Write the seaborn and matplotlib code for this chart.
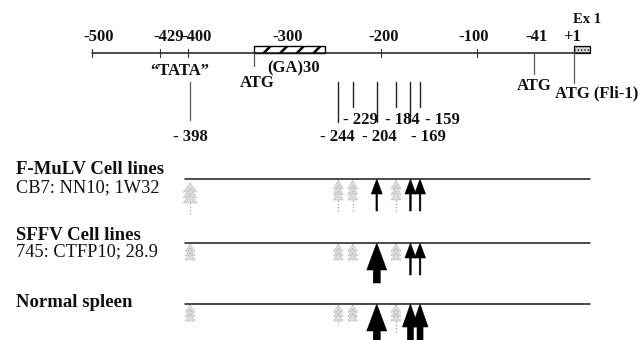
import matplotlib
matplotlib.use("Agg")
import matplotlib.pyplot as plt
import seaborn as sns
import pandas as pd
from matplotlib.patches import Rectangle, Polygon

# promoter map data (positions in bp relative to +1)
ruler_ticks = [-500, -429, -400, -200, -100]
ruler_label_pos = [-500, -429, -400, -300, -200, -100, -41, 1]
ruler_labels = ["-500", "-429", "-400", "-300", "-200", "-100", "-41", "+1"]
ruler_start, ruler_end = -500, 18
ga_start, ga_end = -332, -258
ex1_start, ex1_end = 1, 18
atg_sites = [-332, -41, 1]
atg_labels = ["ATG", "ATG", "ATG (Fli-1)"]
tata_site = -398
sites = [-244, -229, -204, -184, -169, -159]
site_labels = ["- 244", "- 229", "- 204", "- 184", "- 169", "- 159"]

track_titles = ["F-MuLV Cell lines", "SFFV Cell lines", "Normal spleen"]
track_subtitles = ["CB7: NN10; 1W32", "745: CTFP10; 28.9", ""]
grey_sites = [-398, -244, -229, -184]
black_sites = [-204, -169, -159]
black_size = [["thin", "thin", "thin"],
              ["big", "thin", "thin"],
              ["big", "mid", "mid"]]
grey_shaft = [[33, 32, 32, 32],
              [0, 0, 0, 0],
              [0, 20, 0, 29]]

# layout (pixel units)
K = 0.962          # px per bp
X0 = 92            # px of -500
ruler_y = 53
track_y = [179, 243, 304]
track_start = -403
title_base = [174, 240, 307]
sub_base = [192, 256]

sns.set_theme(style="white")
plt.rcParams["font.family"] = ["Liberation Serif", "DejaVu Serif"]

fig = plt.figure(figsize=(6.38, 3.4), dpi=100)
ax = fig.add_axes([0, 0, 1, 1])


def bp(dpx):
    return dpx / K


lines = pd.DataFrame({
    "x": [ruler_start, ruler_end] + [v for _ in track_y for v in (track_start, ruler_end)],
    "y": [ruler_y, ruler_y] + [v for y in track_y for v in (y, y)],
    "id": [0, 0] + [i + 1 for i in range(len(track_y)) for _ in (0, 1)],
})
sns.lineplot(data=lines, x="x", y="y", units="id", estimator=None, sort=False,
             color="#1a1a1a", lw=1.1, legend=False, ax=ax)
ax.set_xlim(-500 - X0 / K, -500 + (638 - X0) / K)
ax.set_ylim(340, 0)
ax.axis("off")

bold = dict(fontweight="bold", color="#111111")

# ruler
for t in ruler_ticks:
    ax.plot([t, t], [49, 57], color="#333333", lw=0.8)
shifts = [7, 8, 8, 3, 3, -3, 3, -2]
for p, lab, s in zip(ruler_label_pos, ruler_labels, shifts):
    ax.text(p + bp(s), 41, lab, ha="center", va="baseline", fontsize=12, **bold)
ax.text(ex1_start + bp(13), 23, "Ex 1", ha="center", va="baseline", fontsize=10.5, **bold)

plt.rcParams["hatch.linewidth"] = 1.8
ax.add_patch(Rectangle((ga_start, ruler_y - 7.5), ga_end - ga_start, 7.5,
                       fc="white", ec="black", lw=1.0, hatch="//"))
plt.rcParams["hatch.linewidth"] = 0.6
ax.add_patch(Rectangle((ex1_start, ruler_y - 7), ex1_end - ex1_start, 7,
                       fc="#d9d9d9", ec="black", lw=0.9, hatch="....."))
ax.text((ga_start + ga_end) / 2 + bp(4), 72, "(GA)30", ha="center", va="baseline",
        fontsize=12, **bold)

# ATG marks
atg_len = [13, 21, 30]
atg_text = [(4, 87, "center"), (1, 90, "center"), (-19, 97, "left")]
for p, lab, L, (dx, ty, ha) in zip(atg_sites, atg_labels, atg_len, atg_text):
    ax.plot([p, p], [ruler_y, ruler_y + L], color="#555555", lw=0.9)
    ax.text(p + bp(dx), ty, lab, ha=ha, va="baseline", fontsize=12, **bold)

# TATA
ax.text(tata_site - bp(10), 75, "\u201cTATA\u201d", ha="center", va="baseline",
        fontsize=12, **bold)
ax.plot([tata_site, tata_site], [82, 120], color="#555555", lw=0.9)
ax.text(tata_site, 141, "- 398", ha="center", va="baseline", fontsize=12, **bold)

# binding sites
label_shift = [-1, 8, 3, 6, 18, 22]
for i, (s, lab) in enumerate(zip(sites, site_labels)):
    long = i % 2 == 0
    ax.plot([s, s], [82, 122 if long else 107], color="#222222", lw=1.0)
    ax.text(s + bp(label_shift[i]), 141 if long else 124, lab, ha="center",
            va="baseline", fontsize=12, **bold)

sizes = {"thin": (11, 15, 1.6, 32), "mid": (16, 23, 6, 40), "big": (20, 27, 7, 40)}


def black_arrow(x, y, kind):
    hw, hl, sw, L = sizes[kind]
    a, b = bp(hw / 2), bp(sw / 2)
    pts = [(x, y), (x + a, y + hl), (x + b, y + hl), (x + b, y + L),
           (x - b, y + L), (x - b, y + hl), (x - a, y + hl)]
    ax.add_patch(Polygon(pts, closed=True, fc="black", ec="black", lw=0.4))


def grey_arrow(x, y, w, h, shaft):
    a = bp(w / 2)
    for top in (0, 0.28 * h, 0.55 * h):
        pts = [(x, y + top), (x + a, y + top + 0.45 * h), (x - a, y + top + 0.45 * h)]
        ax.add_patch(Polygon(pts, closed=True, fc="#dcdcdc", ec="#9a9a9a",
                             lw=0.6, ls=":"))
    if shaft:
        ax.plot([x, x], [y + h, y + shaft], color="#a0a0a0", lw=0.9, ls=":")


for ti, ty in enumerate(track_y):
    for gi, g in enumerate(grey_sites):
        tall = ti == 0
        w = 14 if (g == -398 and tall) else 10
        h = 20 if tall else 16
        grey_arrow(g, ty + (4 if (g == -398 and tall) else 1), w, h, grey_shaft[ti][gi])
    for bi, b in enumerate(black_sites):
        black_arrow(b, ty, black_size[ti][bi])
    ax.text(-500 - bp(76), title_base[ti], track_titles[ti], ha="left", va="baseline",
            fontsize=13.5, **bold)
    if track_subtitles[ti]:
        ax.text(-500 - bp(76), sub_base[ti], track_subtitles[ti], ha="left",
                va="baseline", fontsize=13.2, color="#111111")

fig.savefig("out.png", dpi=100)
